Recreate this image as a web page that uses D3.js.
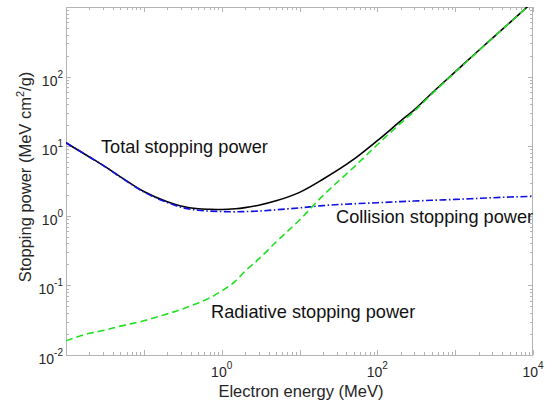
<!DOCTYPE html>
<html><head><meta charset="utf-8">
<script src="https://cdn.jsdelivr.net/npm/d3@7"></script>
<style>body{margin:0;background:#fff}svg{display:block;font-family:"Liberation Sans",Arial,sans-serif}</style>
</head><body><svg id="c" width="552" height="403"></svg>
<script>
// Electron energy (MeV)
const energy = [0.01,0.02,0.03,0.05,0.1,0.2,0.3,0.5,0.7,1,1.5,2,3,5,10,20,50,100,200,300,500,1000,2000,5000,10000];
// Stopping powers (MeV cm^2/g)
const totalSP     = [11.2,7.0,5.3,3.63,2.23,1.59,1.38,1.26,1.24,1.23,1.26,1.31,1.42,1.64,2.17,3.35,6.5,12.0,23.1,33.6,57.7,117,237,592,1192];
const collisionSP = [11.2,7.0,5.3,3.6,2.2,1.55,1.33,1.2,1.17,1.15,1.14,1.15,1.17,1.22,1.3,1.4,1.49,1.54,1.6,1.63,1.67,1.72,1.78,1.86,1.9];
const radiativeSP = [0.016,0.0205,0.0225,0.026,0.031,0.039,0.045,0.056,0.066,0.083,0.115,0.16,0.24,0.42,0.87,1.95,5.0,10.5,21.5,32,56,115,235,590,1190];
const xTickVals = [1,100,10000];
const xTickExp  = ["0","2","4"];
const yTickVals = [0.01,0.1,1,10,100];
const yTickExp  = ["-2","-1","0","1","2"];

const svg = d3.select("#c");
const L=66,R=533,T=7,B=355;
const x = d3.scaleLog().domain([0.01,1e4]).range([L,R]);
const y = d3.scaleLog().domain([0.01,1e3]).range([B,T]);

svg.append("defs").append("clipPath").attr("id","clip")
  .append("rect").attr("x",L).attr("y",T).attr("width",R-L).attr("height",B-T);

const axisCol="#b4b4b4";
function minorVals(lo,hi){const v=[];for(let e=Math.log10(lo);e<Math.log10(hi);e++){for(let k=1;k<10;k++)v.push(k*Math.pow(10,e));}v.push(hi);return v;}
const g=svg.append("g").attr("stroke",axisCol).attr("stroke-width",1);
minorVals(0.01,1e4).forEach(v=>{
  const major=Math.abs(Math.log10(v)-Math.round(Math.log10(v)))<1e-9;
  const len=major?5:3, px=Math.round(x(v))+0.5;
  g.append("line").attr("x1",px).attr("x2",px).attr("y1",B).attr("y2",B-len);
  g.append("line").attr("x1",px).attr("x2",px).attr("y1",T).attr("y2",T+len);
});
minorVals(0.01,1e3).forEach(v=>{
  const major=Math.abs(Math.log10(v)-Math.round(Math.log10(v)))<1e-9;
  const len=major?5:3, py=Math.round(y(v))+0.5;
  g.append("line").attr("y1",py).attr("y2",py).attr("x1",L).attr("x2",L+len);
  g.append("line").attr("y1",py).attr("y2",py).attr("x1",R).attr("x2",R-len);
});
svg.append("rect").attr("x",L+0.5).attr("y",T+0.5).attr("width",R-L-1).attr("height",B-T)
  .attr("fill","none").attr("stroke",axisCol).attr("stroke-width",1);

const tcol="#262626";
xTickVals.forEach((v,i)=>{
  const t=svg.append("text").attr("x",x(v)).attr("y",B+22).attr("text-anchor","middle")
    .attr("font-size",14).attr("fill",tcol);
  t.append("tspan").text("10");
  t.append("tspan").attr("dy",-8).attr("font-size",10).text(xTickExp[i]);
});
yTickVals.forEach((v,i)=>{
  const t=svg.append("text").attr("x",63).attr("y",y(v)+9).attr("text-anchor","end")
    .attr("font-size",14).attr("fill",tcol);
  t.append("tspan").text("10");
  t.append("tspan").attr("dy",-8).attr("font-size",10).text(yTickExp[i]);
});

svg.append("text").attr("x",301).attr("y",397).attr("text-anchor","middle")
  .attr("font-size",16.5).attr("fill",tcol).text("Electron energy (MeV)");
const yl=svg.append("text").attr("transform","translate(31,177) rotate(-90)").attr("text-anchor","middle")
  .attr("font-size",16.5).attr("fill",tcol);
yl.append("tspan").text("Stopping power (MeV cm");
yl.append("tspan").attr("dy",-7).attr("font-size",11).text("2");
yl.append("tspan").attr("dy",7).text("/g)");

const line=vals=>d3.line().x((d,i)=>x(energy[i])).y(d=>y(d)).curve(d3.curveMonotoneX)(vals);
const plot=svg.append("g").attr("clip-path","url(#clip)").attr("fill","none");
plot.append("path").attr("d",line(totalSP)).attr("stroke","#000").attr("stroke-width",1.6);
plot.append("path").attr("d",line(collisionSP)).attr("stroke","#1010e0").attr("stroke-width",1.6)
  .attr("stroke-dasharray","7,2.5,1.5,2.5");
plot.append("path").attr("d",line(radiativeSP)).attr("stroke","#22e022").attr("stroke-width",1.6)
  .attr("stroke-dasharray","7,4");

const ann=[["Total stopping power",101,153],["Collision stopping power",336,223],["Radiative stopping power",211,318]];
ann.forEach(a=>svg.append("text").attr("x",a[1]).attr("y",a[2]).attr("font-size",18.2).attr("fill","#111").text(a[0]));
</script></body></html>
